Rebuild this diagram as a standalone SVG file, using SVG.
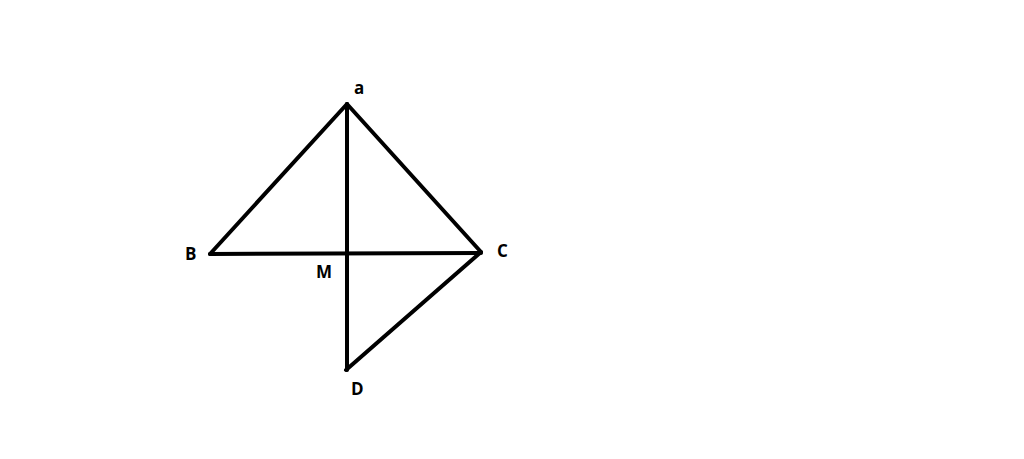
<svg xmlns="http://www.w3.org/2000/svg" width="1024" height="459" viewBox="0 0 1024 459">
<style>
.l{stroke:#000;stroke-width:4;stroke-linecap:round;stroke-linejoin:round;fill:none}
.t{font-family:"Open Sans","Liberation Sans",Arial,sans-serif;font-weight:bold;font-size:17px;fill:#000}
</style>
<rect width="1024" height="459" fill="#fff"/>
<g id="connectors">
<path class="l" d="M347,104 L210,254"/>
<path class="l" d="M347,104 L481,252"/>
<path class="l" d="M210,254 L481,253"/>
<path class="l" d="M347,104 L347,370"/>
<path class="l" d="M481,252 L346,370"/>
</g>
<g id="node-a"><text class="t" x="354" y="94">a</text></g>
<g id="node-B"><text class="t" x="185" y="260">B</text></g>
<g id="node-C"><text class="t" x="497" y="257">C</text></g>
<g id="node-M"><text class="t" x="316" y="278">M</text></g>
<g id="node-D"><text class="t" x="351" y="395">D</text></g>
</svg>
